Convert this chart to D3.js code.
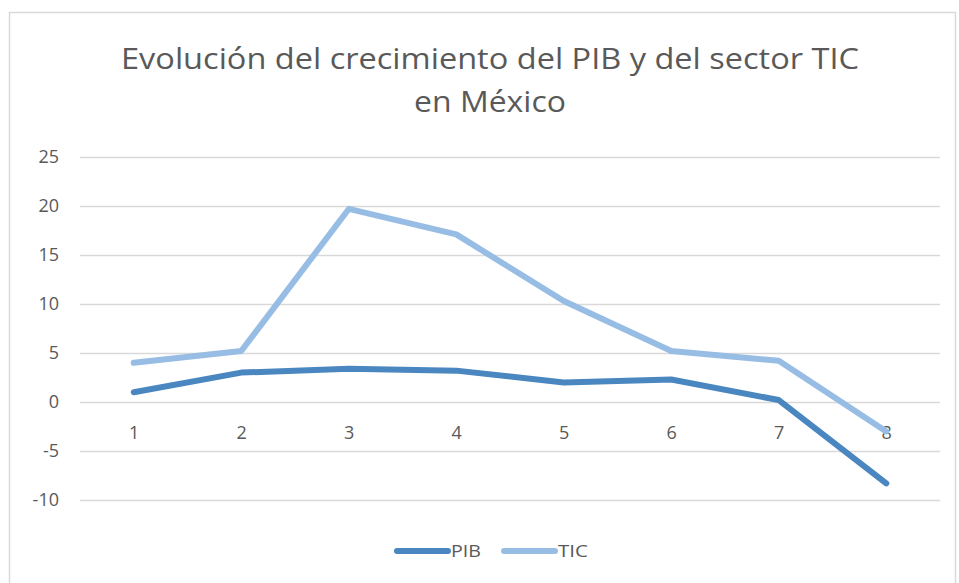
<!DOCTYPE html>
<html>
<head>
<meta charset="utf-8">
<title>Evolución del crecimiento del PIB y del sector TIC</title>
<style>
  body { margin: 0; background: #fff; }
  text { font-family: 'Open Sans', 'Noto Sans', sans-serif; fill: #595959; }
</style>
</head>
<body>
<script src="https://cdn.jsdelivr.net/npm/d3@7"></script>
<script>
var categories = ["1", "2", "3", "4", "5", "6", "7", "8"];
var pib = [1.0, 3.0, 3.4, 3.2, 2.0, 2.3, 0.2, -8.3];
var tic = [4.0, 5.2, 19.7, 17.1, 10.3, 5.2, 4.2, -3.0];
var yTicks = [25, 20, 15, 10, 5, 0, -5, -10];
var seriesNames = ["PIB", "TIC"];
var colors = ["#4a86bf", "#98bde4"];

var W = 959, H = 583;
var margin = {top: 157, right: 19, bottom: 83, left: 80};

var svg = d3.select("body").append("svg")
    .attr("width", W)
    .attr("height", H);

// chart frame
svg.append("rect")
    .attr("x", 9.5).attr("y", 12.5)
    .attr("width", 946).attr("height", 600)
    .attr("fill", "none")
    .attr("stroke", "#d9d9d9")
    .attr("stroke-width", 1.5);

var x = d3.scalePoint()
    .domain(categories)
    .range([margin.left, W - margin.right])
    .padding(0.5);

var y = d3.scaleLinear()
    .domain([-10, 25])
    .range([H - margin.bottom, margin.top]);

// title (Calibri-like width, squeezed with textLength)
var title = svg.append("text")
    .attr("text-anchor", "middle")
    .attr("font-size", "29px");
title.append("tspan").attr("x", 490).attr("y", 69)
    .attr("textLength", 738).attr("lengthAdjust", "spacingAndGlyphs")
    .text("Evolución del crecimiento del PIB y del sector TIC");
title.append("tspan").attr("x", 490).attr("y", 112)
    .attr("textLength", 152).attr("lengthAdjust", "spacingAndGlyphs")
    .text("en México");

var fmt = function(d){ return String(d); };

// gridlines + y labels
var yAxis = d3.axisLeft(y)
    .tickValues(yTicks)
    .tickFormat(fmt)
    .tickSize(-(W - margin.right - margin.left))
    .tickPadding(21);

svg.append("g")
    .attr("transform", "translate(" + margin.left + ",0)")
    .call(yAxis)
    .call(function(g){
        g.select(".domain").remove();
        g.selectAll(".tick line").attr("stroke", "#d9d9d9").attr("stroke-width", 1.5);
        g.selectAll(".tick text").attr("font-size", "18px").attr("fill", "#595959")
            .style("font-family", "'Open Sans', sans-serif");
    });

// category labels, sitting under the zero line
var xAxis = d3.axisBottom(x).tickSize(0).tickPadding(24);
svg.append("g")
    .attr("transform", "translate(0," + y(0) + ")")
    .call(xAxis)
    .call(function(g){
        g.select(".domain").remove();
        g.selectAll(".tick text").attr("font-size", "18px").attr("fill", "#595959")
            .style("font-family", "'Open Sans', sans-serif");
    });

var line = d3.line()
    .x(function(d, i){ return x(categories[i]); })
    .y(function(d){ return y(d); });

[pib, tic].forEach(function(s, i){
    svg.append("path")
        .datum(s)
        .attr("d", line)
        .attr("fill", "none")
        .attr("stroke", colors[i])
        .attr("stroke-width", 6)
        .attr("stroke-linejoin", "round")
        .attr("stroke-linecap", "round");
});

// legend
var legendX = [397, 504];
var legend = svg.append("g");
seriesNames.forEach(function(name, i){
    legend.append("line")
        .attr("x1", legendX[i]).attr("x2", legendX[i] + 51)
        .attr("y1", 551).attr("y2", 551)
        .attr("stroke", colors[i])
        .attr("stroke-width", 6)
        .attr("stroke-linecap", "round");
    legend.append("text")
        .attr("x", legendX[i] + 54)
        .attr("y", 557)
        .attr("font-size", "17px")
        .attr("textLength", name === "PIB" ? 30 : 30)
        .attr("lengthAdjust", "spacingAndGlyphs")
        .text(name);
});
</script>
</body>
</html>
